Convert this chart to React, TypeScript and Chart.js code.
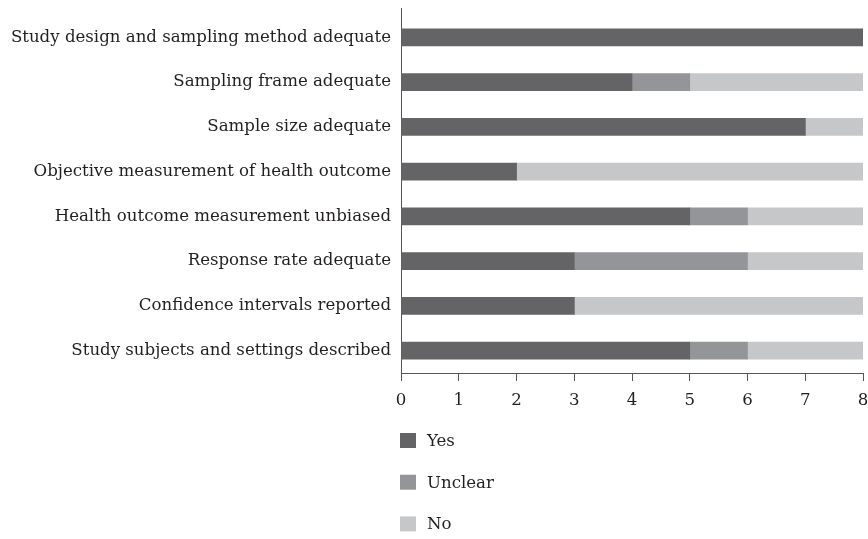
import { useEffect, useRef } from 'react';
import { Chart, registerables } from 'chart.js';

Chart.register(...registerables);

const categories = [
  'Study design and sampling method adequate',
  'Sampling frame adequate',
  'Sample size adequate',
  'Objective measurement of health outcome',
  'Health outcome measurement unbiased',
  'Response rate adequate',
  'Confidence intervals reported',
  'Study subjects and settings described',
];
const yesValues = [8, 4, 7, 2, 5, 3, 3, 5];
const unclearValues = [0, 1, 0, 0, 1, 3, 0, 1];
const noValues = [0, 3, 1, 6, 2, 2, 5, 2];
const seriesNames = ['Yes', 'Unclear', 'No'];
const seriesColors = ['#646466', '#949598', '#c6c7c9'];
const xMin = 0;
const xMax = 8;

const FONT = '"DejaVu Serif", "Liberation Serif", serif';
const FONT_SIZE = 16.6;
const TEXT = '#231f20';
const AXIS = '#555555';

const extrasPlugin = {
  id: 'extras',
  afterDraw(chart: any) {
    const { ctx, chartArea } = chart;
    ctx.save();
    ctx.strokeStyle = AXIS;
    ctx.lineWidth = 1;
    ctx.beginPath();
    ctx.moveTo(chartArea.left + 0.5, chartArea.top - 7);
    ctx.lineTo(chartArea.left + 0.5, chartArea.top + 1);
    ctx.stroke();
    ctx.font = `${FONT_SIZE}px ${FONT}`;
    ctx.textBaseline = 'middle';
    ctx.textAlign = 'left';
    chart.data.datasets.forEach((ds: any, i: number) => {
      const cy = 440.5 + i * 41.7;
      ctx.fillStyle = ds.backgroundColor;
      ctx.fillRect(chartArea.left - 1, cy - 7.5, 16, 15);
      ctx.fillStyle = TEXT;
      ctx.fillText(ds.label, chartArea.left + 26, cy + 1);
    });
    ctx.restore();
  },
};

export default function App() {
  const ref = useRef<HTMLCanvasElement>(null);
  useEffect(() => {
    if (!ref.current) return;
    const values = [yesValues, unclearValues, noValues];
    const chart = new Chart(ref.current, {
      type: 'bar',
      data: {
        labels: categories,
        datasets: seriesNames.map((name, i) => ({
          label: name,
          data: values[i],
          backgroundColor: seriesColors[i],
          borderWidth: 0,
          barThickness: 17,
        })),
      },
      options: {
        indexAxis: 'y',
        responsive: false,
        animation: false,
        layout: { padding: { top: 15, right: 5, bottom: 126, left: 0 } },
        plugins: {
          legend: { display: false },
          tooltip: { enabled: false },
        },
        scales: {
          x: {
            stacked: true,
            min: xMin,
            max: xMax,
            ticks: {
              stepSize: 1,
              color: TEXT,
              font: { family: FONT, size: FONT_SIZE },
              padding: 10,
            },
            grid: {
              display: true,
              drawOnChartArea: false,
              drawTicks: true,
              tickLength: 8,
              color: AXIS,
            },
            border: { display: true, color: AXIS, width: 1 },
            afterFit(scale: any) {
              scale.height = 40;
              scale.paddingLeft = 0;
              scale.paddingRight = 0;
            },
          },
          y: {
            stacked: true,
            ticks: {
              color: TEXT,
              font: { family: FONT, size: FONT_SIZE },
              padding: 10,
            },
            grid: {
              display: true,
              drawOnChartArea: false,
              drawTicks: false,
              color: AXIS,
            },
            border: { display: true, color: AXIS, width: 1 },
            afterFit(scale: any) {
              scale.width = 401;
              scale.paddingTop = 0;
              scale.paddingBottom = 0;
            },
          },
        },
      },
      plugins: [extrasPlugin],
    });
    return () => chart.destroy();
  }, []);
  return (
    <div style={{ position: 'fixed', left: 0, top: 0, width: 868, height: 539, background: '#fff' }}>
      <canvas ref={ref} width={868} height={539} style={{ display: 'block' }} />
    </div>
  );
}
